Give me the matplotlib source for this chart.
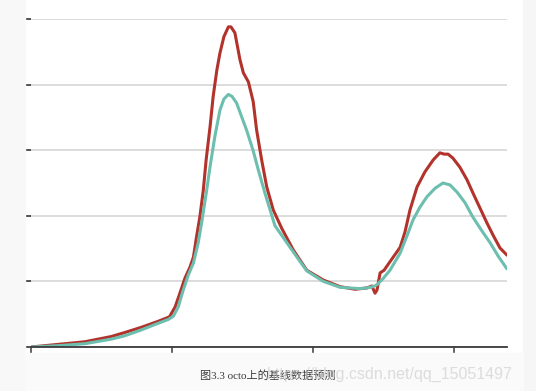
# Baseline prediction chart on octo (red = observed, teal = baseline)
import matplotlib
matplotlib.use("Agg")
import matplotlib.pyplot as plt
from matplotlib.patches import Rectangle

red_x = [0, 9.6, 19.1, 28.5, 33.2, 39.1, 45.0, 49.1, 51.1, 52.8, 54.6, 56.4, 57.6,
         58.7, 59.9, 61.1, 62.1, 63.5, 64.6, 65.9, 67.0, 68.4, 70.0, 70.9, 72.3,
         74.1, 75.3, 77.1, 78.8, 80.0, 81.8, 83.6, 85.9, 88.9, 93.0, 97.8, 103.7,
         109.6, 114.9, 119.1, 120.9, 122.0, 122.7, 123.8, 125.2, 127.3, 130.9,
         132.6, 134.4, 136.9, 139.7, 142.6, 145.0, 146.5, 147.9, 149.6, 152.1,
         154.6, 156.7, 159.2, 161.7, 163.8, 166.3, 168.8]
red_y = [0, 0.04, 0.08, 0.16, 0.22, 0.30, 0.39, 0.46, 0.61, 0.82, 1.05, 1.22, 1.37,
         1.68, 1.99, 2.39, 2.85, 3.36, 3.82, 4.22, 4.48, 4.73, 4.88, 4.88, 4.79,
         4.38, 4.18, 4.04, 3.74, 3.31, 2.85, 2.44, 2.09, 1.81, 1.48, 1.17, 1.02,
         0.92, 0.88, 0.90, 0.93, 0.82, 0.87, 1.13, 1.17, 1.30, 1.52,
         1.75, 2.09, 2.44, 2.67, 2.85, 2.96, 2.94, 2.94, 2.88, 2.74,
         2.55, 2.35, 2.12, 1.89, 1.71, 1.51, 1.40]

# Baseline prediction (teal)
teal_x = [0, 9.6, 19.1, 28.5, 33.2, 39.1, 45.0, 48.7, 50.5, 52.2, 54.0, 55.8, 57.6,
          59.3, 60.5, 62.3, 63.5, 65.2, 67.0, 68.4, 70.0, 71.3, 72.9, 74.1, 76.5,
          78.8, 80.6, 83.0, 86.5, 93.0, 97.8, 103.7, 109.6, 113.1, 116.7, 119.1,
          121.3, 122.7, 124.8, 127.3, 130.9, 133.3, 135.5, 137.9, 140.4, 143.3,
          146.1, 148.6, 151.1, 153.9, 156.7, 159.9, 162.8, 165.6, 168.8]
teal_y = [0, 0.02, 0.05, 0.12, 0.17, 0.26, 0.36, 0.42, 0.47, 0.61, 0.87, 1.10, 1.28,
          1.59, 1.89, 2.39, 2.75, 3.21, 3.61, 3.78, 3.85, 3.82, 3.72, 3.58, 3.30,
          2.99, 2.70, 2.34, 1.85, 1.45, 1.16, 1.00, 0.91, 0.90, 0.89, 0.90,
          0.92, 0.95, 1.04, 1.17, 1.43, 1.69, 1.94, 2.13, 2.29, 2.42,
          2.50, 2.47, 2.36, 2.20, 1.98, 1.77, 1.59, 1.39, 1.19]

x_ticks = [0, 50, 100, 150]
y_ticks = [0, 1, 2, 3, 4, 5]

caption = "图3.3 octo上的基线数据预测"
watermark = "https://blog.csdn.net/qq_15051497"

fig = plt.figure(figsize=(5.36, 3.91), dpi=100)
fig.patch.set_facecolor("white")

# faint grey page margins of the screenshot
fig.patches.append(Rectangle((0, 0), 25 / 536, 1, transform=fig.transFigure,
                             color="#f8f8f8", zorder=0))
fig.patches.append(Rectangle((523 / 536, 0), 13 / 536, 1, transform=fig.transFigure,
                             color="#f6f6f6", zorder=0))
fig.patches.append(Rectangle((25 / 536, 0), 498 / 536, 38 / 391, transform=fig.transFigure,
                             color="#fafafa", zorder=0))

ax = fig.add_axes([31 / 536, 44 / 391, 476 / 536, 328 / 391])
ax.set_facecolor("white")

# lines
ax.plot(red_x, red_y, color="#b2332c", linewidth=2.2, solid_capstyle="round",
        solid_joinstyle="round", zorder=3)
ax.plot(teal_x, teal_y, color="#6cbfae", linewidth=2.2, solid_capstyle="round",
        solid_joinstyle="round", zorder=4)

ax.set_xlim(0, 168.8)
ax.set_ylim(0, 5)
ax.set_xticks(x_ticks)
ax.set_yticks(y_ticks)
ax.set_xticklabels([])
ax.set_yticklabels([])

# horizontal grid only
ax.grid(axis="y", color="#d2d2d2", linewidth=1.1)
ax.set_axisbelow(True)

for side in ["top", "right", "left"]:
    ax.spines[side].set_visible(False)
ax.spines["bottom"].set_color("#3a3a3a")
ax.spines["bottom"].set_linewidth(1.3)
ax.spines["bottom"].set_zorder(5)

ax.tick_params(axis="x", direction="out", length=5, width=1.1, color="#3a3a3a")
ax.tick_params(axis="y", direction="out", length=4.5, width=1.3, color="#444444")

# caption and watermark (the watermark sits over the caption, as in the source)
fig.text(0.499, 16 / 391, caption, ha="center", va="center", fontsize=8,
         color="#3a3a3a", family=["Liberation Serif", "Noto Sans CJK SC"])
fig.text(513 / 536, 12 / 391, watermark, ha="right", va="baseline", fontsize=11.5,
         color="#c8c8c8", alpha=0.6, family=["Liberation Sans", "DejaVu Sans"])

fig.savefig("out.png", dpi=100)
